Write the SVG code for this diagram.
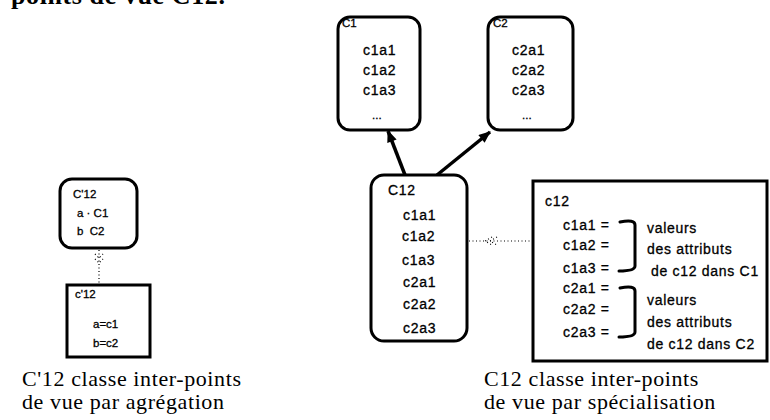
<svg xmlns="http://www.w3.org/2000/svg" width="770" height="420" viewBox="0 0 770 420">
  <style>
    .box { fill: #fff; stroke: #000; stroke-width: 3; }
    .t { font-family: "Liberation Sans", Arial, sans-serif; font-size: 14px; letter-spacing: 0.7px; fill: #000; stroke: #000; stroke-width: 0.3; }
    .s { font-family: "Liberation Sans", Arial, sans-serif; font-size: 11.5px; fill: #000; stroke: #000; stroke-width: 0.3; }
    .cap { font-family: "Liberation Serif", "Times New Roman", serif; font-size: 22px; letter-spacing: 0.6px; fill: #000; }
    .head { font-family: "Liberation Serif", "Times New Roman", serif; font-size: 26px; font-weight: bold; letter-spacing: 0.6px; fill: #000; }
    .arrow { stroke: #000; stroke-width: 3.5; fill: none; }
    .dot { stroke: #000; stroke-width: 1.2; stroke-dasharray: 1 2.5; fill: none; }
    .brace { stroke: #000; stroke-width: 3; fill: none; stroke-linecap: round; }
  </style>
  <defs>
    <marker id="head" viewBox="0 0 12 10" refX="11" refY="5" markerWidth="14" markerHeight="10" markerUnits="userSpaceOnUse" orient="auto">
      <path d="M0 0 L12 5 L0 10 Z" fill="#000"/>
    </marker>
  </defs>

  <rect width="770" height="420" fill="#fff"/>

  <!-- heading line, clipped by the top edge -->
  <text class="head" x="11" y="4">points de vue C12.</text>

  <!-- connectors -->
  <g id="connectors">
    <line class="arrow" x1="405" y1="175" x2="388" y2="131" marker-end="url(#head)"/>
    <line class="arrow" x1="437" y1="175" x2="490" y2="132" marker-end="url(#head)"/>
    <line class="dot" x1="469" y1="241" x2="530" y2="241"/>
    <path class="dot" d="M492 237 L485 241 L492 245 M497 237 L490 241 L497 245"/>
    <line class="dot" x1="99" y1="250" x2="99" y2="284"/>
    <path class="dot" d="M95 254 L99 258 L103 254 M95 259 L99 263 L103 259"/>
  </g>

  <!-- class C1 -->
  <g id="node-C1">
    <rect class="box" x="338" y="17" width="82" height="113" rx="12"/>
    <text class="s" x="342" y="27">C1</text>
    <text class="t" x="363" y="55">c1a1</text>
    <text class="t" x="363" y="75">c1a2</text>
    <text class="t" x="363" y="95">c1a3</text>
    <text class="s" x="372" y="119">...</text>
  </g>

  <!-- class C2 -->
  <g id="node-C2">
    <rect class="box" x="488" y="17" width="85" height="113" rx="12"/>
    <text class="s" x="493" y="27">C2</text>
    <text class="t" x="512" y="55">c2a1</text>
    <text class="t" x="512" y="75">c2a2</text>
    <text class="t" x="512" y="95">c2a3</text>
    <text class="s" x="522" y="119">...</text>
  </g>

  <!-- class C12 -->
  <g id="node-C12">
    <rect class="box" x="371" y="175" width="96" height="166" rx="13"/>
    <text class="t" x="388" y="195">C12</text>
    <text class="t" x="403" y="220">c1a1</text>
    <text class="t" x="402" y="241">c1a2</text>
    <text class="t" x="402" y="265">c1a3</text>
    <text class="t" x="403" y="287">c2a1</text>
    <text class="t" x="403" y="309">c2a2</text>
    <text class="t" x="403" y="333">c2a3</text>
  </g>

  <!-- instance c12 -->
  <g id="node-c12">
    <rect class="box" x="533" y="181" width="234" height="180"/>
    <text class="t" x="545" y="206">c12</text>
    <text class="t" x="563" y="230">c1a1 =</text>
    <text class="t" x="563" y="250">c1a2 =</text>
    <text class="t" x="563" y="273">c1a3 =</text>
    <text class="t" x="563" y="293">c2a1 =</text>
    <text class="t" x="563" y="314">c2a2 =</text>
    <text class="t" x="563" y="337">c2a3 =</text>
    <path class="brace" d="M620 222 Q635 219 635 225 L635 266 Q635 271 619 271"/>
    <path class="brace" d="M620 288 Q635 285 635 291 L635 332 Q635 337 619 337"/>
    <text class="t" x="647" y="233">valeurs</text>
    <text class="t" x="647" y="254">des attributs</text>
    <text class="t" x="651" y="276">de c12 dans C1</text>
    <text class="t" x="647" y="305">valeurs</text>
    <text class="t" x="647" y="327">des attributs</text>
    <text class="t" x="647" y="349">de c12 dans C2</text>
  </g>

  <!-- class C'12 -->
  <g id="node-Cp12">
    <rect class="box" x="60" y="179" width="77" height="69" rx="12"/>
    <text class="s" x="73" y="198">C'12</text>
    <text class="s" x="77" y="217">a · C1</text>
    <text class="s" x="77" y="235">b&#160;&#160;C2</text>
  </g>

  <!-- instance c'12 -->
  <g id="node-cp12">
    <rect class="box" x="67" y="285" width="83" height="72"/>
    <text class="s" x="75" y="298">c'12</text>
    <text class="s" x="93" y="328">a=c1</text>
    <text class="s" x="93" y="347">b=c2</text>
  </g>

  <!-- captions -->
  <text class="cap" x="22" y="386">C'12 classe inter-points</text>
  <text class="cap" x="22" y="409">de vue par agrégation</text>
  <text class="cap" x="484" y="386">C12 classe inter-points</text>
  <text class="cap" x="484" y="409">de vue par spécialisation</text>
</svg>
